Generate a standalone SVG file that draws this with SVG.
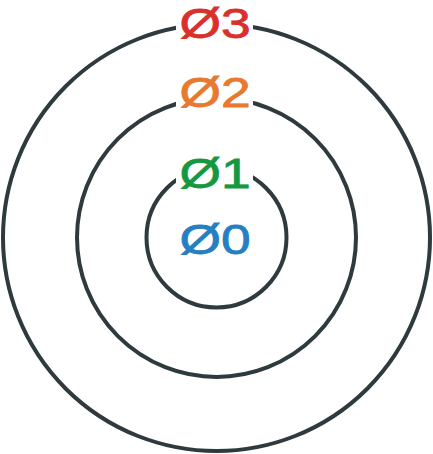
<svg xmlns="http://www.w3.org/2000/svg" width="433" height="454" viewBox="0 0 433 454">
<style>
.ring{fill:none;stroke:#2e3a3e;stroke-width:4}
.bg{fill:#ffffff}
.lbl{font-family:"Liberation Sans",Arial,sans-serif;font-size:42px;text-anchor:middle;stroke-width:0.8px}
</style>
<rect width="433" height="454" fill="#ffffff"/>
<g id="ring3">
<circle class="ring" cx="216.5" cy="237.5" r="213.5"/>
<rect class="bg" x="176" y="0" width="77" height="46"/>
<text class="lbl" fill="#d9302c" stroke="#d9302c" transform="translate(215,37.5) scale(1.27,1)">Ø3</text>
</g>
<g id="ring2">
<circle class="ring" cx="216.5" cy="237.5" r="139.5"/>
<rect class="bg" x="176" y="70" width="77" height="44"/>
<text class="lbl" fill="#e8792f" stroke="#e8792f" transform="translate(215,106.5) scale(1.27,1)">Ø2</text>
</g>
<g id="ring1">
<circle class="ring" cx="216.5" cy="237.5" r="70"/>
<rect class="bg" x="176" y="150" width="77" height="45"/>
<text class="lbl" fill="#15983f" stroke="#15983f" transform="translate(215,188) scale(1.27,1)">Ø1</text>
</g>
<g id="center">
<text class="lbl" fill="#2480c2" stroke="#2480c2" transform="translate(215,253.5) scale(1.27,1)">Ø0</text>
</g>
<g id="connectors"/>
</svg>
